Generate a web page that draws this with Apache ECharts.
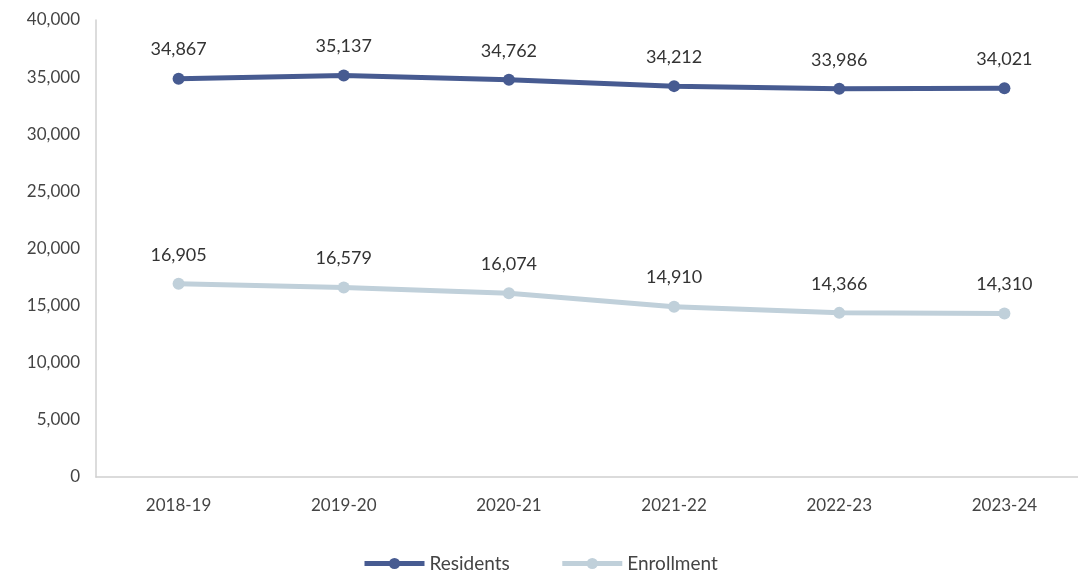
<!DOCTYPE html>
<html><head><meta charset="utf-8">
<script src="https://cdn.jsdelivr.net/npm/echarts@6/dist/echarts.min.js"></script>
<style>html,body{margin:0;padding:0;background:#fff;overflow:hidden;width:1078px;height:582px}#c{width:1100px;height:582px}</style>
</head><body><div id="c"></div>
<script>
const categories = ['2018-19','2019-20','2020-21','2021-22','2022-23','2023-24'];
const residents = [34867, 35137, 34762, 34212, 33986, 34021];
const enrollment = [16905, 16579, 16074, 14910, 14366, 14310];
const font = 'Lato, "Open Sans", sans-serif';
const chart = echarts.init(document.getElementById('c'));
const lbl = {show:true, position:'top', distance:14, color:'#333', fontSize:18, fontFamily:font,
  formatter: p => p.value.toLocaleString('en-US')};
chart.setOption({
  animation:false,
  grid:{left:96, width:991, top:20, bottom:105, containLabel:false},
  legend:{bottom:4, left:357, itemWidth:60, itemHeight:14, itemGap:50,
    textStyle:{fontSize:19, color:'#444', fontFamily:font},
    lineStyle:{width:5},
    data:['Residents','Enrollment']},
  xAxis:{type:'category', data:categories, boundaryGap:true,
    axisLine:{lineStyle:{color:'#d0d0d0', width:1.5}}, axisTick:{show:false},
    axisLabel:{fontSize:17, color:'#444', fontFamily:font, margin:20}},
  yAxis:{type:'value', min:0, max:40000, interval:5000,
    axisLine:{show:true, lineStyle:{color:'#d0d0d0', width:1.5}}, axisTick:{show:false},
    splitLine:{show:false},
    axisLabel:{fontSize:17, color:'#444', fontFamily:font, margin:16,
      formatter: v => v.toLocaleString('en-US')}},
  series:[
    {name:'Residents', type:'line', data:residents, symbol:'circle', symbolSize:12,
      lineStyle:{color:'#475b91', width:5}, itemStyle:{color:'#475b91'}, label:lbl},
    {name:'Enrollment', type:'line', data:enrollment, symbol:'circle', symbolSize:12,
      lineStyle:{color:'#c0d0da', width:5}, itemStyle:{color:'#c0d0da'}, label:lbl}
  ]
});
</script></body></html>
